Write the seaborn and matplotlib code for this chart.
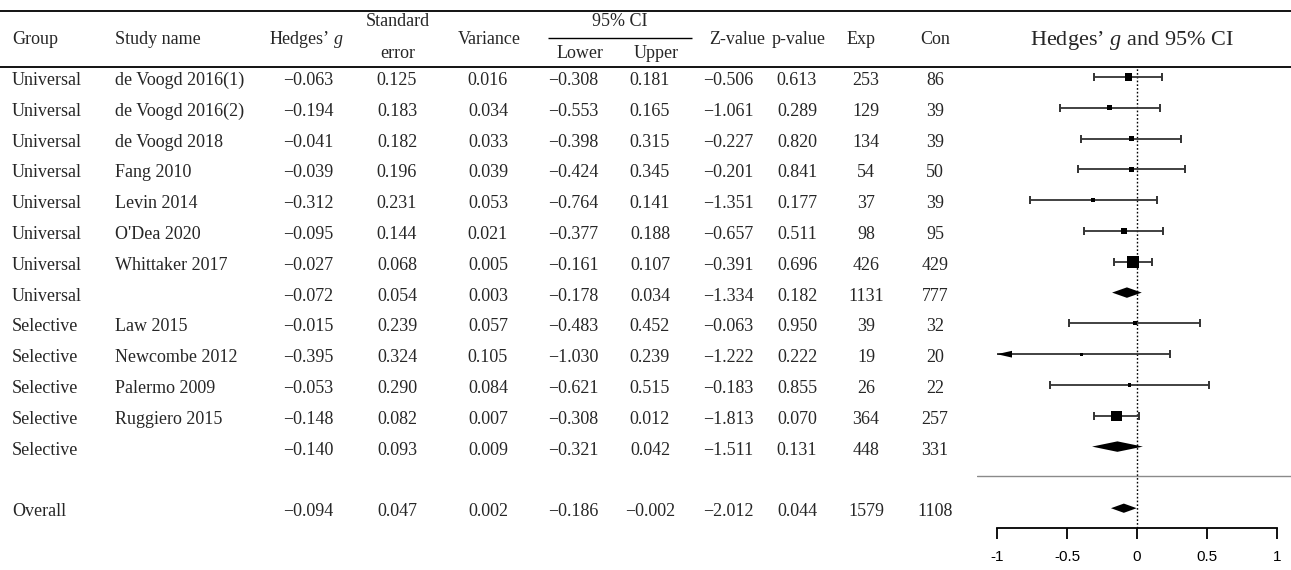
import numpy as np
import pandas as pd
import matplotlib.pyplot as plt
import seaborn as sns

# ---------- data ----------
groups = ["Universal"] * 8 + ["Selective"] * 5
studies = ["de Voogd 2016(1)", "de Voogd 2016(2)", "de Voogd 2018", "Fang 2010",
           "Levin 2014", "O'Dea 2020", "Whittaker 2017", "",
           "Law 2015", "Newcombe 2012", "Palermo 2009", "Ruggiero 2015", ""]
kind = ["study"] * 7 + ["pooled"] + ["study"] * 4 + ["pooled"]
hedges_g = [-0.063, -0.194, -0.041, -0.039, -0.312, -0.095, -0.027, -0.072,
            -0.015, -0.395, -0.053, -0.148, -0.140]
std_err = [0.125, 0.183, 0.182, 0.196, 0.231, 0.144, 0.068, 0.054,
           0.239, 0.324, 0.290, 0.082, 0.093]
variance = [0.016, 0.034, 0.033, 0.039, 0.053, 0.021, 0.005, 0.003,
            0.057, 0.105, 0.084, 0.007, 0.009]
ci_lower = [-0.308, -0.553, -0.398, -0.424, -0.764, -0.377, -0.161, -0.178,
            -0.483, -1.030, -0.621, -0.308, -0.321]
ci_upper = [0.181, 0.165, 0.315, 0.345, 0.141, 0.188, 0.107, 0.034,
            0.452, 0.239, 0.515, 0.012, 0.042]
z_value = [-0.506, -1.061, -0.227, -0.201, -1.351, -0.657, -0.391, -1.334,
           -0.063, -1.222, -0.183, -1.813, -1.511]
p_value = [0.613, 0.289, 0.820, 0.841, 0.177, 0.511, 0.696, 0.182,
           0.950, 0.222, 0.855, 0.070, 0.131]
n_exp = [253, 129, 134, 54, 37, 98, 426, 1131, 39, 19, 26, 364, 448]
n_con = [86, 39, 39, 50, 39, 95, 429, 777, 32, 20, 22, 257, 331]

overall = dict(g=-0.094, se=0.047, var=0.002, lo=-0.186, hi=-0.002,
               z=-2.012, p=0.044, exp=1579, con=1108)

xticks = [-1, -0.5, 0, 0.5, 1]
xtick_labels = ["-1", "-0.5", "0", "0.5", "1"]

df = pd.DataFrame({"group": groups, "study": studies, "kind": kind, "g": hedges_g,
                   "se": std_err, "var": variance, "lo": ci_lower, "hi": ci_upper,
                   "z": z_value, "p": p_value, "exp": n_exp, "con": n_con})
df["row"] = np.arange(len(df))
df["weight"] = 1 / df["var"]
OVERALL_ROW = 14


def fmt(v):
    return f"{v:.3f}".replace("-", "\u2212")


# ---------- style ----------
sns.set_theme(style="ticks")
plt.rcParams["font.family"] = ["Liberation Serif", "DejaVu Serif"]
plt.rcParams["mathtext.fontset"] = "custom"
plt.rcParams["mathtext.rm"] = "Liberation Serif"
plt.rcParams["mathtext.it"] = "Liberation Serif:italic"

W, H = 1291, 570
fig = plt.figure(figsize=(W / 100, H / 100), dpi=100)

# ---------- table (pixel coordinates) ----------
tab = fig.add_axes([0, 0, 1, 1])
tab.set_xlim(0, W)
tab.set_ylim(H, 0)
tab.axis("off")

FS = 13
tab.hlines([11, 67], 0, W, color="black", lw=1.3)
tab.hlines(38, 548, 692, color="black", lw=1.0)

hdr = [("Group", 12, 40, "left"), ("Study name", 115, 40, "left"),
       ("Hedges\u2019 $g$", 306, 40, "center"), ("Standard", 398, 22, "center"),
       ("error", 398, 53, "center"), ("Variance", 489, 40, "center"),
       ("95% CI", 620, 22, "center"), ("Lower", 580, 53, "center"),
       ("Upper", 656, 53, "center"), ("Z-value", 737, 40, "center"),
       ("p-value", 799, 40, "center"), ("Exp", 861, 40, "center"),
       ("Con", 935, 40, "center")]
for txt, x, y, ha in hdr:
    tab.text(x, y, txt, ha=ha, va="center", fontsize=FS)
tab.text(1132, 40, "Hedges\u2019 $g$ and 95% CI", ha="center", va="center", fontsize=16)

col_x = {"group": 12, "study": 115, "g": 308, "se": 397, "var": 488, "lo": 573,
         "hi": 650, "z": 728, "p": 797, "exp": 866, "con": 935}


def row_y(r):
    return 80.5 + 30.8 * r


for _, rw in df.iterrows():
    y = row_y(rw["row"])
    tab.text(col_x["group"], y, rw["group"], ha="left", va="center", fontsize=FS)
    tab.text(col_x["study"], y, rw["study"], ha="left", va="center", fontsize=FS)
    for c in ["g", "se", "var", "lo", "hi", "z", "p"]:
        tab.text(col_x[c], y, fmt(rw[c]), ha="center", va="center", fontsize=FS)
    for c in ["exp", "con"]:
        tab.text(col_x[c], y, str(rw[c]), ha="center", va="center", fontsize=FS)

y = row_y(OVERALL_ROW)
tab.text(col_x["group"], y, "Overall", ha="left", va="center", fontsize=FS)
for c in ["g", "se", "var", "lo", "hi", "z", "p"]:
    tab.text(col_x[c], y, fmt(overall[c]), ha="center", va="center", fontsize=FS)
for c in ["exp", "con"]:
    tab.text(col_x[c], y, str(overall[c]), ha="center", va="center", fontsize=FS)

# ---------- forest plot ----------
x0, x1, top, bot = 977, 1291, 67, 528
fx = fig.add_axes([x0 / W, 1 - bot / H, (x1 - x0) / W, (bot - top) / H])
fx.set_xlim(-1 - 20 / 140, -1 + 294 / 140)
fx.set_ylim((bot - 77) / 30.8, (top - 77) / 30.8)
fx.patch.set_alpha(0)

studies_df = df[df["kind"] == "study"]
line_col = "#333333"
for _, rw in studies_df.iterrows():
    lo = max(rw["lo"], -1)
    fx.hlines(rw["row"], lo, rw["hi"], color=line_col, lw=1.3, zorder=2)
    fx.plot([rw["hi"]], [rw["row"]], marker="|", ms=6, mew=1.4, color=line_col)
    if rw["lo"] >= -1:
        fx.plot([rw["lo"]], [rw["row"]], marker="|", ms=6, mew=1.4, color=line_col)
    else:
        fx.fill([-1, -1 + 15 / 140, -1 + 15 / 140], [rw["row"], rw["row"] - 0.11, rw["row"] + 0.11],
                color="black", lw=0, zorder=3)

wmin, wmax = studies_df["weight"].min(), studies_df["weight"].max()
sns.scatterplot(data=studies_df, x="g", y="row", size="weight",
                sizes=(0.47 * wmin, 0.40 * wmax), size_norm=(wmin, wmax),
                marker="s", color="black", edgecolor="none", legend=False,
                ax=fx, zorder=4)

pooled = df[df["kind"] == "pooled"]
h = 0.17
for _, rw in pooled.iterrows():
    fx.fill([rw["lo"], rw["g"], rw["hi"], rw["g"]],
            [rw["row"], rw["row"] - h, rw["row"], rw["row"] + h], color="black", lw=0, zorder=4)
fx.fill([overall["lo"], overall["g"], overall["hi"], overall["g"]],
        [OVERALL_ROW, OVERALL_ROW - 0.15, OVERALL_ROW, OVERALL_ROW + 0.15],
        color="black", lw=0, zorder=4)

fx.axvline(0, color="black", lw=1.0, ls=(0, (1.2, 1.5)), zorder=1)
fx.axhline(12.95, color="#8a8a8a", lw=1.0)

for s in ["left", "right", "top"]:
    fx.spines[s].set_visible(False)
fx.spines["bottom"].set_bounds(-1, 1)
fx.spines["bottom"].set_linewidth(1.3)
fx.spines["bottom"].set_color("black")
fx.set_yticks([])
fx.set_xticks(xticks)
fx.set_xticklabels(xtick_labels, fontfamily="Liberation Sans", fontsize=11)
fx.tick_params(axis="x", direction="out", length=8, width=1.3, pad=8, colors="black")
fx.set_xlabel("")
fx.set_ylabel("")

fig.savefig("out.png", dpi=100)
